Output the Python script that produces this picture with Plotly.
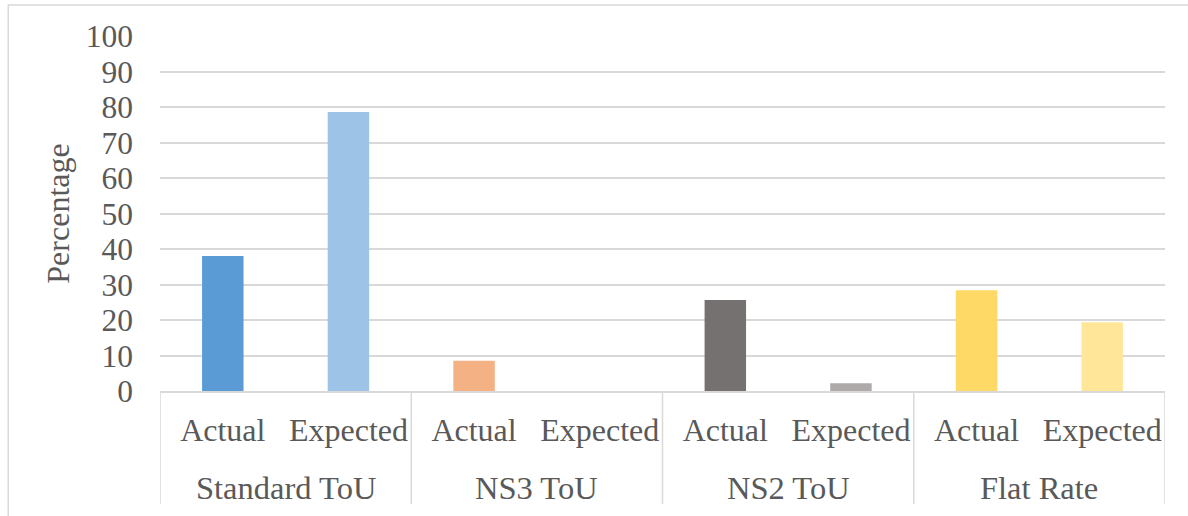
import plotly.graph_objects as go

groups = ["Standard ToU", "Standard ToU", "NS3 ToU", "NS3 ToU", "NS2 ToU", "NS2 ToU", "Flat Rate", "Flat Rate"]
kinds = ["Actual", "Expected"] * 4
values = [38.0, 78.6, 8.5, 0.0, 25.6, 2.2, 28.4, 19.4]
colors = ["#5B9BD5", "#9DC3E6", "#F4B183", "#F8CBAD", "#767171", "#AEAAAA", "#FFD966", "#FFE699"]
y_ticks = [0, 10, 20, 30, 40, 50, 60, 70, 80, 90, 100]

FONT = "Liberation Serif"
TXT = "#595959"
GRID = "#D9D9D9"

idx = list(range(len(values)))

# group structure derived from the data
group_names = []
group_members = {}
for i, g in enumerate(groups):
    if g not in group_members:
        group_names.append(g)
        group_members[g] = []
    group_members[g].append(i)

fig = go.Figure(go.Bar(
    x=idx, y=values,
    marker=dict(color=colors, line=dict(width=0)),
    width=0.33, showlegend=False, hoverinfo="skip",
))

annotations = []
shapes = [dict(type="rect", xref="paper", yref="paper",
               x0=-0.151, x1=1.05, y0=-0.5, y1=1.087,
               line=dict(color=GRID, width=1.5), layer="below")]
for g in group_names:
    m = group_members[g]
    center = (m[0] + m[-1]) / 2
    annotations.append(dict(
        x=center, xref="x", y=-0.272, yref="paper", text=g, showarrow=False,
        xanchor="center", yanchor="middle",
        font=dict(family=FONT, size=32.5, color=TXT),
    ))
    shapes.append(dict(type="line", xref="x", yref="paper",
                       x0=m[0] - 0.5, x1=m[0] - 0.5, y0=0, y1=-0.318,
                       line=dict(color=GRID, width=1.5)))
shapes.append(dict(type="line", xref="x", yref="paper",
                   x0=idx[-1] + 0.5, x1=idx[-1] + 0.5, y0=0, y1=-0.318,
                   line=dict(color=GRID, width=1.5)))

fig.update_layout(
    width=1188, height=516,
    margin=dict(l=160, r=23, t=36, b=125),
    paper_bgcolor="white", plot_bgcolor="white",
    font=dict(family=FONT, size=31.5, color=TXT),
    shapes=shapes, annotations=annotations,
)
fig.update_yaxes(
    range=[0, 100], tickvals=y_ticks, showgrid=True, gridcolor=GRID, gridwidth=1.5,
    zeroline=False, showline=False, ticks="", ticklabelstandoff=26,
    title=dict(text="Percentage", font=dict(family=FONT, size=32, color=TXT), standoff=6),
)
fig.update_xaxes(
    range=[-0.5, len(values) - 0.5], tickvals=idx, ticktext=kinds,
    tickfont=dict(family=FONT, size=32, color=TXT),
    showline=True, linecolor=GRID, linewidth=1.5, showgrid=False, zeroline=False,
    ticks="", ticklabelstandoff=10,
)
fig.write_html("out.html", config={"displayModeBar": False},
               post_script="document.body.style.margin='0';")
